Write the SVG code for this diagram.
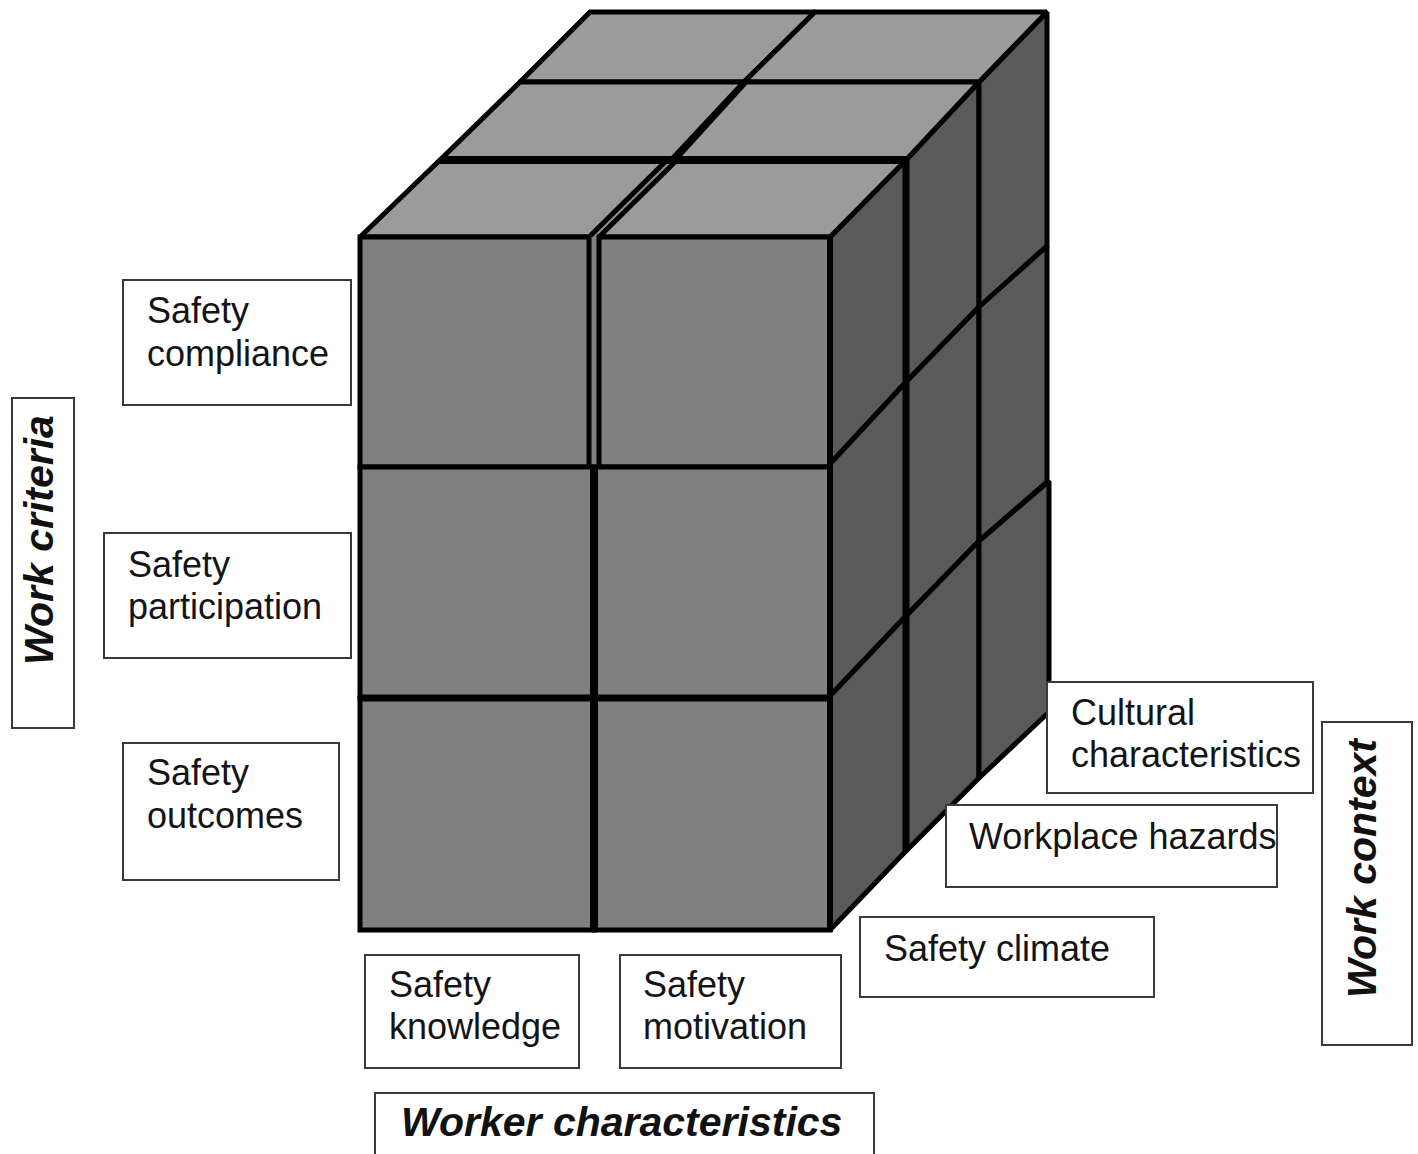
<svg xmlns="http://www.w3.org/2000/svg" width="1418" height="1154" viewBox="0 0 1418 1154">
  <style>
    .face { stroke: #000; stroke-width: 5; stroke-linejoin: miter; stroke-miterlimit: 2; }
    .front { fill: #808080; }
    .top { fill: #9b9b9b; }
    .side { fill: #5a5a5a; }
    .heavy { stroke: #000; fill: none; stroke-linecap: butt; }
    .box { fill: #fff; stroke: #3a3a3a; stroke-width: 2; }
    .lbl { font-family: "Liberation Sans", Arial, Helvetica, sans-serif; font-size: 36px; fill: #141414; }
    .axis { font-family: "Liberation Sans", Arial, Helvetica, sans-serif; font-size: 41px; font-weight: bold; font-style: italic; fill: #111; }
  </style>

  <rect width="1418" height="1154" fill="#fff"/>

  <!-- 2 x 3 x 3 block of cubes -->
  <g id="cube">
    <!-- right-hand side: 3 depth columns x 3 rows -->
    <g class="face side">
      <polygon points="830,237 906,160 906,382 830,464"/>
      <polygon points="906,160 979,82 979,307 906,382"/>
      <polygon points="979,82 1047,12 1047,246 979,307"/>
      <polygon points="830,464 906,382 906,616 830,696"/>
      <polygon points="906,382 979,307 979,541 906,616"/>
      <polygon points="979,307 1047,246 1047,482 979,541"/>
      <polygon points="830,696 906,616 906,851 830,930"/>
      <polygon points="906,616 979,541 979,778 906,851"/>
      <polygon points="979,541 1049,481 1049,712 979,778"/>
    </g>

    <!-- top: 2 columns x 3 depth rows -->
    <polygon points="589,237 599,237 677,160 667,160" fill="#8c8c8c"/>
    <g class="face top">
      <polygon points="520,82 744,82 815,12 590,12"/>
      <polygon points="744,82 979,82 1047,12 815,12"/>
      <polygon points="440,160 671,160 744,82 520,82"/>
      <polygon points="675,160 906,160 979,82 746,82"/>
      <polygon points="360,237 589,237 667,160 440,160"/>
      <polygon points="599,237 830,237 906,160 677,160"/>
    </g>

    <!-- front: 2 columns x 3 rows -->
    <rect x="589" y="237" width="10" height="230" fill="#808080"/>
    <g class="face front">
      <rect x="360" y="237" width="229" height="230"/>
      <rect x="599" y="237" width="231" height="230"/>
      <rect x="360" y="467" width="234" height="231"/>
      <rect x="594" y="467" width="236" height="231"/>
      <rect x="360" y="698" width="234" height="232"/>
      <rect x="594" y="698" width="236" height="232"/>
    </g>

    <!-- heavier seams between blocks -->
    <line class="heavy" x1="440" y1="160" x2="906" y2="160" stroke-width="8"/>
    <line class="heavy" x1="594" y1="465" x2="594" y2="932" stroke-width="8"/>
    <line class="heavy" x1="906" y1="160" x2="906" y2="851" stroke-width="7"/>
    <line class="heavy" x1="830" y1="237" x2="830" y2="932" stroke-width="6"/>
    <line class="heavy" x1="360" y1="698" x2="830" y2="698" stroke-width="7"/>
  </g>

  <!-- work criteria -->
  <g id="axis-work-criteria">
    <rect class="box" x="12" y="398" width="62" height="330"/>
    <text class="axis" transform="translate(53,665) rotate(-90)">Work criteria</text>
  </g>
  <g id="safety-compliance">
    <rect class="box" x="123" y="280" width="228" height="125"/>
    <text class="lbl" x="147" y="323">Safety</text>
    <text class="lbl" x="147" y="366">compliance</text>
  </g>
  <g id="safety-participation">
    <rect class="box" x="104" y="533" width="247" height="125"/>
    <text class="lbl" x="128" y="577">Safety</text>
    <text class="lbl" x="128" y="619">participation</text>
  </g>
  <g id="safety-outcomes">
    <rect class="box" x="123" y="743" width="216" height="137"/>
    <text class="lbl" x="147" y="785">Safety</text>
    <text class="lbl" x="147" y="828">outcomes</text>
  </g>

  <!-- worker characteristics -->
  <g id="safety-knowledge">
    <rect class="box" x="365" y="955" width="214" height="113"/>
    <text class="lbl" x="389" y="997">Safety</text>
    <text class="lbl" x="389" y="1039">knowledge</text>
  </g>
  <g id="safety-motivation">
    <rect class="box" x="620" y="955" width="221" height="113"/>
    <text class="lbl" x="643" y="997">Safety</text>
    <text class="lbl" x="643" y="1039">motivation</text>
  </g>
  <g id="axis-worker-characteristics">
    <rect class="box" x="375" y="1093" width="499" height="70"/>
    <text class="axis" x="401" y="1136">Worker characteristics</text>
  </g>

  <!-- work context -->
  <g id="safety-climate">
    <rect class="box" x="860" y="917" width="294" height="80"/>
    <text class="lbl" x="884" y="961">Safety climate</text>
  </g>
  <g id="workplace-hazards">
    <rect class="box" x="946" y="805" width="331" height="82"/>
    <text class="lbl" x="969" y="849">Workplace hazards</text>
  </g>
  <g id="cultural-characteristics">
    <rect class="box" x="1047" y="682" width="266" height="111"/>
    <text class="lbl" x="1071" y="725">Cultural</text>
    <text class="lbl" x="1071" y="767">characteristics</text>
  </g>
  <g id="axis-work-context">
    <rect class="box" x="1322" y="722" width="90" height="323"/>
    <text class="axis" transform="translate(1376,998) rotate(-90)">Work context</text>
  </g>
</svg>
